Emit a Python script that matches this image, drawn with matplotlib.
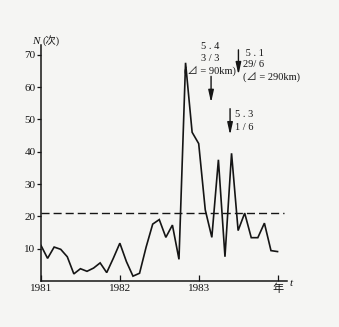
import numpy as np
import matplotlib
matplotlib.use("Agg")
import matplotlib.pyplot as plt

# monthly counts, Jan 1981 .. Jan 1984
counts_1981 = [11, 7, 10.5, 9.8, 7.5, 2.2, 3.8, 3, 4, 5.6, 2.6, 7]
counts_1982 = [11.7, 6, 1.5, 2.4, 10.5, 17.6, 19, 13.5, 17.3, 6.7, 67.5, 46]
counts_1983 = [42.5, 22, 13.5, 37.5, 7.5, 39.5, 15.6, 21, 13.4, 13.4, 17.9, 9.4]
counts_1984 = [9.1]

year_ticks = [1981, 1982, 1983, 1984]
year_labels = ['1981', '1982', '1983', '年']
y_ticks = [10, 20, 30, 40, 50, 60, 70]
threshold = 21

# (x of arrow, arrow top, arrow tip, text lines, text x, text y's, align)
events = [
    (1983.157, 63.3, 55.2, ['5 . 4', '3 / 3', '(⊿ = 90km)'], 1983.145, [72.4, 68.7, 65.1], 'center'),
    (1983.504, 71.5, 63.8, [' 5 . 1', '29/ 6', '(⊿ = 290km)'], 1983.563, [70.3, 67.1, 63.3], 'left'),
    (1983.398, 53.3, 45.2, ['5 . 3', '1 / 6'], 1983.462, [51.4, 47.6], 'left'),
]

serif = ['Liberation Serif', 'DejaVu Serif', 'Noto Sans CJK SC']
plt.rcParams['font.family'] = serif
plt.rcParams['font.size'] = 8

counts = counts_1981 + counts_1982 + counts_1983 + counts_1984
t = 1981 + np.arange(len(counts)) / 12.0

bg = '#f5f5f3'
ink = '#151515'

fig = plt.figure(figsize=(3.39, 3.27), dpi=100, facecolor=bg)
ax = fig.add_axes([41 / 339, 1 - 281 / 327, (287 - 41) / 339, (281 - 45) / 327])
ax.set_facecolor(bg)

ax.plot(t, counts, color=ink, lw=1.2, solid_joinstyle='miter')
ax.plot([1981, 1984.08], [threshold, threshold], color=ink, lw=1.0,
        linestyle=(0, (5.8, 2.9)))

ax.set_xlim(1981, 1984.12)
ax.set_ylim(0, 73)
ax.spines['top'].set_visible(False)
ax.spines['right'].set_visible(False)
for s in ['left', 'bottom']:
    ax.spines[s].set_linewidth(1.1)
    ax.spines[s].set_color(ink)

ax.set_xticks(year_ticks)
ax.set_xticklabels(year_labels)
ax.set_yticks(y_ticks)
ax.tick_params(axis='x', direction='in', length=4, width=0.9, pad=2, colors=ink)
ax.tick_params(axis='y', direction='out', length=3, width=0.9, pad=1, colors=ink)

for x, y0, y1, lines, tx, tys, ha in events:
    ax.annotate('', xy=(x, y1), xytext=(x, y0),
                arrowprops=dict(arrowstyle='-|>,head_length=0.9,head_width=0.2',
                                color=ink, lw=1.0, shrinkA=0, shrinkB=0),
                annotation_clip=False)
    for line, ty in zip(lines, tys):
        ax.text(tx, ty, line, ha=ha, va='center', fontsize=7.5, color=ink,
                clip_on=False)

fig.text(36 / 339, 1 - 41 / 327, 'N', style='italic', ha='center', va='center',
         fontsize=8, color=ink)
fig.text(51 / 339, 1 - 41 / 327, '(次)', ha='center', va='center',
         fontsize=7.5, color=ink)
fig.text(291 / 339, 1 - 283 / 327, 't', style='italic', ha='center', va='center',
         fontsize=8, color=ink)

fig.savefig('out.png', dpi=100, facecolor=bg)
